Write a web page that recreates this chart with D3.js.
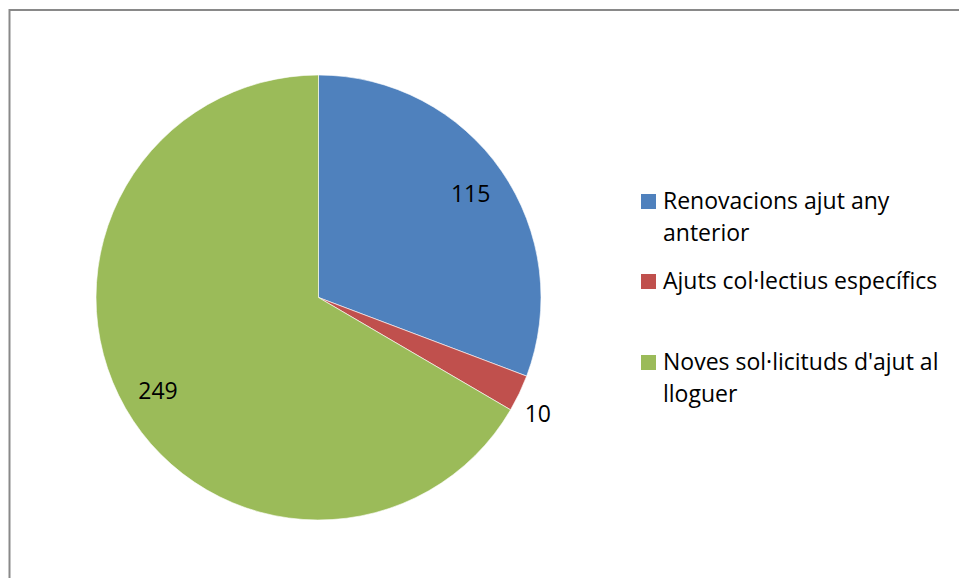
<!DOCTYPE html>
<html>
<head>
<meta charset="utf-8">
<script src="https://cdn.jsdelivr.net/npm/d3@7"></script>
<style>
  html, body { margin: 0; padding: 0; background: #fff; }
  svg { display: block; }
  text { font-family: "Open Sans", Lato, sans-serif; fill: #000; }
</style>
</head>
<body>
<svg id="chart" width="959" height="578"></svg>
<script>
// Sol·licituds d'ajut al lloguer, per tipus
const categories = [
  "Renovacions ajut any anterior",
  "Ajuts col·lectius específics",
  "Noves sol·licituds d'ajut al lloguer"
];
const values = [115, 10, 249];
const colors = ["#4F81BD", "#C0504D", "#9BBB59"];
// Legend text broken onto lines as it wraps in the legend box
const legendLines = [
  ["Renovacions ajut any", "anterior"],
  ["Ajuts col·lectius específics"],
  ["Noves sol·licituds d'ajut al", "lloguer"]
];

const svg = d3.select("#chart");

// Chart frame (extends past the right and bottom edges)
svg.append("rect")
  .attr("x", 9.5).attr("y", 10)
  .attr("width", 1200).attr("height", 1200)
  .attr("fill", "#fff")
  .attr("stroke", "#898989")
  .attr("stroke-width", 2);

const cx = 318.5, cy = 297.5, R = 222.5;
const fontSize = 23;

const pie = d3.pie().sort(null).value(d => d)
  .startAngle(0).endAngle(2 * Math.PI);
const arcs = pie(values);
const arc = d3.arc().innerRadius(0).outerRadius(R);

const g = svg.append("g").attr("transform", `translate(${cx},${cy})`);

g.selectAll("path.slice")
  .data(arcs)
  .enter().append("path")
  .attr("class", "slice")
  .attr("d", arc)
  .attr("fill", (d, i) => colors[i])
  .attr("stroke", "#fff")
  .attr("stroke-width", 0.6);

// Data labels: large slices inside, the thin one outside the rim,
// its text box hanging below the anchor point
const insideArc = d3.arc().innerRadius(185).outerRadius(185);
const outsideArc = d3.arc().innerRadius(243).outerRadius(243);
g.selectAll("text.value")
  .data(arcs)
  .enter().append("text")
  .attr("class", "value")
  .attr("transform", d => {
    const outside = (d.endAngle - d.startAngle) / (2 * Math.PI) < 0.05;
    const p = (outside ? outsideArc : insideArc).centroid(d);
    return `translate(${p[0]},${p[1] + (outside ? 12 : 1)})`;
  })
  .attr("text-anchor", "middle")
  .attr("dy", "0.36em")
  .style("font-size", fontSize + "px")
  .text(d => d.data);

// Legend
const legendX = 641, legendSq = 15, lineH = 32;
const legendCenters = [201.5, 281.5, 362.5];
const lg = svg.append("g");
categories.forEach((c, i) => {
  const yc = legendCenters[i];
  lg.append("rect")
    .attr("x", legendX).attr("y", yc - legendSq / 2)
    .attr("width", legendSq).attr("height", legendSq)
    .attr("fill", colors[i]);
  const t = lg.append("text")
    .attr("x", legendX + 22)
    .attr("y", yc)
    .style("font-size", fontSize + "px");
  legendLines[i].forEach((ln, j) => {
    t.append("tspan")
      .attr("x", legendX + 22)
      .attr("y", yc + j * lineH)
      .attr("dy", "0.34em")
      .text(ln);
  });
});
</script>
</body>
</html>
